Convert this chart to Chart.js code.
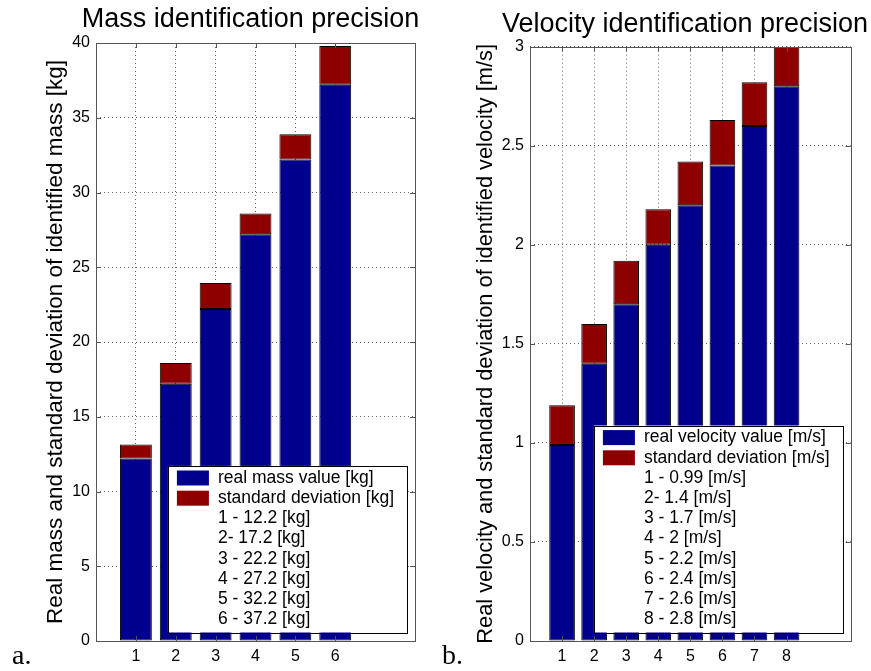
<!DOCTYPE html>
<html>
<head>
<meta charset="utf-8">
<script src="https://cdn.jsdelivr.net/npm/chart.js@4"></script>
<style>
body{margin:0;background:#fff}
#wrap{position:relative;width:871px;height:671px;overflow:hidden}
canvas{position:absolute;top:0}
.tag{position:absolute;top:641px;font:28px/28px "Liberation Serif","Times New Roman",serif;color:#000}
</style>
</head>
<body>
<div id="wrap">
<canvas id="massChart" width="435" height="671" style="left:0"></canvas>
<canvas id="velChart" width="436" height="671" style="left:435px"></canvas>
<div class="tag" style="left:12px">a.</div>
<div class="tag" style="left:442px">b.</div>
</div>
<script>
// mass test cases
const massCats = [1, 2, 3, 4, 5, 6];
const massReal = [12.2, 17.2, 22.2, 27.2, 32.2, 37.2];
const massStd = [0.95, 1.4, 1.75, 1.4, 1.7, 2.6];
const massTicks = [0, 5, 10, 15, 20, 25, 30, 35, 40];

// velocity test cases
const velCats = [1, 2, 3, 4, 5, 6, 7, 8];
const velReal = [0.99, 1.4, 1.7, 2, 2.2, 2.4, 2.6, 2.8];
const velStd = [0.2, 0.2, 0.22, 0.18, 0.22, 0.23, 0.22, 0.2];
const velTicks = [0, 0.5, 1, 1.5, 2, 2.5, 3];

const BLUE = '#00008c';
const RED = '#8e0000';
const FONT = '"Liberation Sans", Arial, sans-serif';

Chart.defaults.font.family = FONT;
Chart.defaults.color = '#000';

// axes box with inward ticks on all four sides
const boxTicks = {
  id: 'boxTicks',
  afterDatasetsDraw(chart) {
    const {ctx, chartArea: a, scales: {x, y}} = chart;
    const len = 5;
    ctx.save();
    ctx.strokeStyle = '#555';
    ctx.lineWidth = 1;
    ctx.beginPath();
    y.ticks.forEach(t => {
      const py = Math.round(y.getPixelForValue(t.value)) + 0.5;
      ctx.moveTo(a.left, py); ctx.lineTo(a.left + len, py);
      ctx.moveTo(a.right, py); ctx.lineTo(a.right - len, py);
    });
    x.ticks.forEach(t => {
      const px = Math.round(x.getPixelForValue(t.value)) + 0.5;
      ctx.moveTo(px, a.bottom); ctx.lineTo(px, a.bottom - len);
      ctx.moveTo(px, a.top); ctx.lineTo(px, a.top + len);
    });
    ctx.stroke();
    ctx.strokeRect(Math.round(a.left) + 0.5, Math.round(a.top) + 0.5,
      Math.round(a.right - a.left), Math.round(a.bottom - a.top));
    ctx.restore();
  }
};

// panel heading, free to run wider than the plot area
const panelTitle = {
  id: 'panelTitle',
  afterDraw(chart, args, opts) {
    const ctx = chart.ctx;
    ctx.save();
    ctx.font = opts.size + 'px ' + FONT;
    ctx.fillStyle = '#000';
    ctx.textAlign = 'center';
    ctx.textBaseline = 'alphabetic';
    ctx.fillText(opts.text, opts.x, opts.baseline);
    ctx.restore();
  }
};

// legend box in the lower right corner, two swatches plus the case list
const noteLegend = {
  id: 'noteLegend',
  afterDraw(chart, args, opts) {
    const {ctx, chartArea: a} = chart;
    const sets = chart.data.datasets;
    const lines = sets.map(d => d.label).concat(opts.notes);
    const lh = 20.2;
    ctx.save();
    ctx.font = opts.fontSize + 'px ' + FONT;
    const textW = Math.max(...lines.map(s => ctx.measureText(s).width));
    const w = 9 + 32 + 9 + textW + 13;
    const h = lines.length * lh + 5;
    const right = a.right - 8, bottom = a.bottom - 8.5;
    const left = right - w, top = bottom - h;
    ctx.fillStyle = '#fff';
    ctx.fillRect(left, top, w, h);
    ctx.strokeStyle = '#000';
    ctx.lineWidth = 1;
    ctx.strokeRect(Math.round(left) + 0.5, Math.round(top) + 0.5, Math.round(w), Math.round(h));
    ctx.textBaseline = 'middle';
    ctx.textAlign = 'left';
    lines.forEach((s, i) => {
      const cy = top + 2 + lh * (i + 0.5);
      if (i < sets.length) {
        ctx.fillStyle = sets[i].backgroundColor;
        ctx.fillRect(left + 9, cy - 7.5, 32, 15);
      }
      ctx.fillStyle = '#000';
      ctx.fillText(s, left + 50, cy);
    });
    ctx.restore();
  }
};

function caseNotes(cats, vals, unit) {
  return cats.map((c, i) => c + (i === 1 ? '- ' : ' - ') + vals[i] + ' ' + unit);
}

function makeChart(id, c) {
  const points = vals => c.cats.map((x, i) => ({x: x, y: vals[i]}));
  return new Chart(document.getElementById(id), {
    type: 'bar',
    data: {
      datasets: [
        {label: c.realLabel, data: points(c.real), backgroundColor: BLUE},
        {label: c.stdLabel, data: points(c.std), backgroundColor: RED}
      ]
    },
    options: {
      responsive: false,
      animation: false,
      barPercentage: 0.8,
      categoryPercentage: 1,
      borderWidth: 1,
      borderColor: '#000',
      borderSkipped: false,
      layout: {padding: {left: 0, right: c.padRight, top: c.padTop, bottom: 0}},
      plugins: {
        legend: {display: false},
        tooltip: {enabled: false},
        title: {display: false},
        panelTitle: {text: c.title, size: 27, x: c.titleX, baseline: c.titleBase},
        noteLegend: {notes: c.notes, fontSize: 17.5}
      },
      scales: {
        x: {
          type: 'linear', stacked: true, min: 0, max: c.xMax, offset: false,
          afterBuildTicks: s => { s.ticks = c.cats.map(v => ({value: v})); },
          afterFit: s => { s.height = 30; },
          grid: {color: '#666', drawTicks: false, offset: false},
          border: {display: false, dash: [1, 3]},
          ticks: {padding: 6, font: {size: 16}, color: '#000', callback: v => String(v)}
        },
        y: {
          stacked: true, min: 0, max: c.yMax,
          afterBuildTicks: s => { s.ticks = c.yTicks.map(v => ({value: v})); },
          afterFit: s => { s.width = c.axisWidth; },
          grid: {color: '#666', drawTicks: false},
          border: {display: false, dash: [1, 3]},
          ticks: {padding: 6, font: {size: 16}, color: '#000', callback: v => String(v)},
          title: {
            display: true, text: c.yTitle, color: '#000',
            font: {size: c.yTitleSize, lineHeight: 1}, padding: {top: c.yTitlePad, bottom: 0}
          }
        }
      }
    },
    plugins: [boxTicks, panelTitle, noteLegend]
  });
}

makeChart('massChart', {
  title: 'Mass identification precision',
  yTitle: 'Real mass and standard deviation of identified mass [kg]',
  realLabel: 'real mass value [kg]',
  stdLabel: 'standard deviation [kg]',
  cats: massCats, real: massReal, std: massStd, yTicks: massTicks,
  notes: caseNotes(massCats, massReal, '[kg]'),
  xMax: 8, yMax: 40,
  axisWidth: 96, padRight: 20, padTop: 43,
  titleX: 250.5, titleBase: 27.3,
  yTitleSize: 22.5, yTitlePad: 45
});

makeChart('velChart', {
  title: 'Velocity identification precision',
  yTitle: 'Real velocity and standard deviation of identified velocity [m/s]',
  realLabel: 'real velocity value [m/s]',
  stdLabel: 'standard deviation [m/s]',
  cats: velCats, real: velReal, std: velStd, yTicks: velTicks,
  notes: caseNotes(velCats, velReal, '[m/s]'),
  xMax: 10, yMax: 3,
  axisWidth: 95, padRight: 20.3, padTop: 46.7,
  titleX: 250, titleBase: 31.7,
  yTitleSize: 21.8, yTitlePad: 39.8
});
</script>
</body>
</html>
